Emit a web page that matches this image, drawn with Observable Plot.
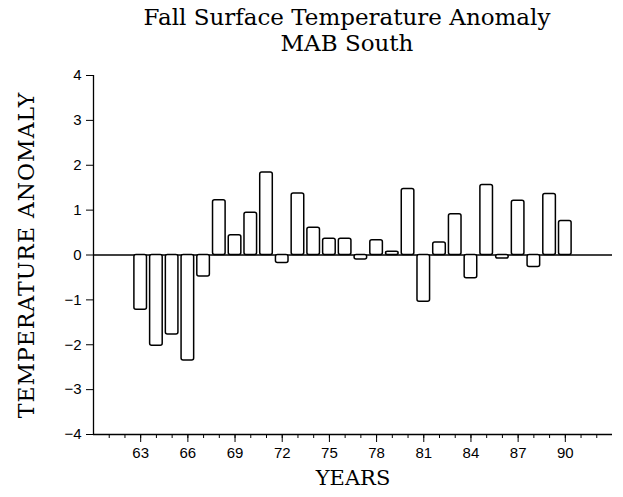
<!DOCTYPE html>
<html>
<head>
<meta charset="utf-8">
<script src="https://cdn.jsdelivr.net/npm/d3@7"></script>
<script src="https://cdn.jsdelivr.net/npm/@observablehq/plot@0.6"></script>
<style>
  body { margin: 0; background: #fff; }
  #wrap { position: relative; width: 623px; height: 497px; }
  #title { position: absolute; top: 4px; left: 347px; transform: translateX(-50%);
    font-family: "DejaVu Serif", "Liberation Serif", serif; font-size: 23px; line-height: 26px;
    text-align: center; white-space: nowrap; color: #000; }
  #chart { position: absolute; top: 50px; left: 0; }
  svg g[aria-label="y-axis label"] text {
    font-family: "DejaVu Serif", "Liberation Serif", serif; font-size: 22px; letter-spacing: 1px; fill: #000; }
  svg g[aria-label="x-axis label"] text {
    font-family: "DejaVu Serif", "Liberation Serif", serif; font-size: 21px; fill: #000; }
  svg g[aria-label="y-axis tick label"] text, svg g[aria-label="x-axis tick label"] text {
    font-family: "Liberation Sans", Arial, sans-serif; font-size: 15px; fill: #000; }
</style>
</head>
<body>
<div id="wrap">
  <div id="chart"></div>
  <div id="title">Fall Surface Temperature Anomaly<br>MAB South</div>
</div>
<script>
const years = [63, 64, 65, 66, 67, 68, 69, 70, 71, 72, 73, 74, 75, 76, 77, 78, 79, 80, 81, 82, 83, 84, 85, 86, 87, 88, 89, 90];
const anomalies = [-1.22, -2.02, -1.77, -2.35, -0.48, 1.22, 0.44, 0.94, 1.84, -0.18, 1.37, 0.61, 0.36, 0.36, -0.1, 0.33, 0.07, 1.47, -1.04, 0.28, 0.91, -0.52, 1.56, -0.08, 1.21, -0.27, 1.36, 0.76];
const yTicks = [-4, -3, -2, -1, 0, 1, 2, 3, 4];
const xLabelTicks = [63, 66, 69, 72, 75, 78, 81, 84, 87, 90];
const xMinorTicks = [61, 62, 63, 64, 65, 66, 67, 68, 69, 70, 71, 72, 73, 74, 75, 76, 77, 78, 79, 80, 81, 82, 83, 84, 85, 86, 87, 88, 89, 90, 91, 92];

const data = years.map((y, i) => ({year: y, value: anomalies[i]}));
const fmt = d => d < 0 ? "\u2212" + Math.abs(d) : String(d);

const chart = Plot.plot({
  width: 623,
  height: 447,
  marginTop: 25,
  marginBottom: 63,
  marginLeft: 93,
  marginRight: 11,
  x: {domain: [60, 93]},
  y: {domain: [-4, 4]},
  marks: [
    Plot.axisY(yTicks, {tickSize: 7, tickPadding: 5, tickFormat: fmt,
      label: "TEMPERATURE ANOMALY", labelAnchor: "center", labelOffset: 75, labelArrow: "none"}),
    Plot.axisX(xMinorTicks, {tickSize: 4, tickFormat: () => "", label: null}),
    Plot.axisX(xLabelTicks, {tickSize: 8, tickPadding: 5, tickFormat: d => String(d),
      label: "YEARS", labelAnchor: "center", labelOffset: 50, labelArrow: "none"}),
    Plot.ruleX([60], {y1: -4, y2: 4, stroke: "#000", strokeWidth: 1.3}),
    Plot.ruleY([-4], {stroke: "#000", strokeWidth: 1.3}),
    Plot.ruleY([0], {stroke: "#000", strokeWidth: 1.3}),
    Plot.rect(data, {x1: d => d.year - 0.4, x2: d => d.year + 0.4, y1: 0, y2: "value",
      fill: "#fff", stroke: "#000", strokeWidth: 1.5, rx: 2})
  ]
});
document.getElementById("chart").appendChild(chart);
</script>
</body>
</html>
